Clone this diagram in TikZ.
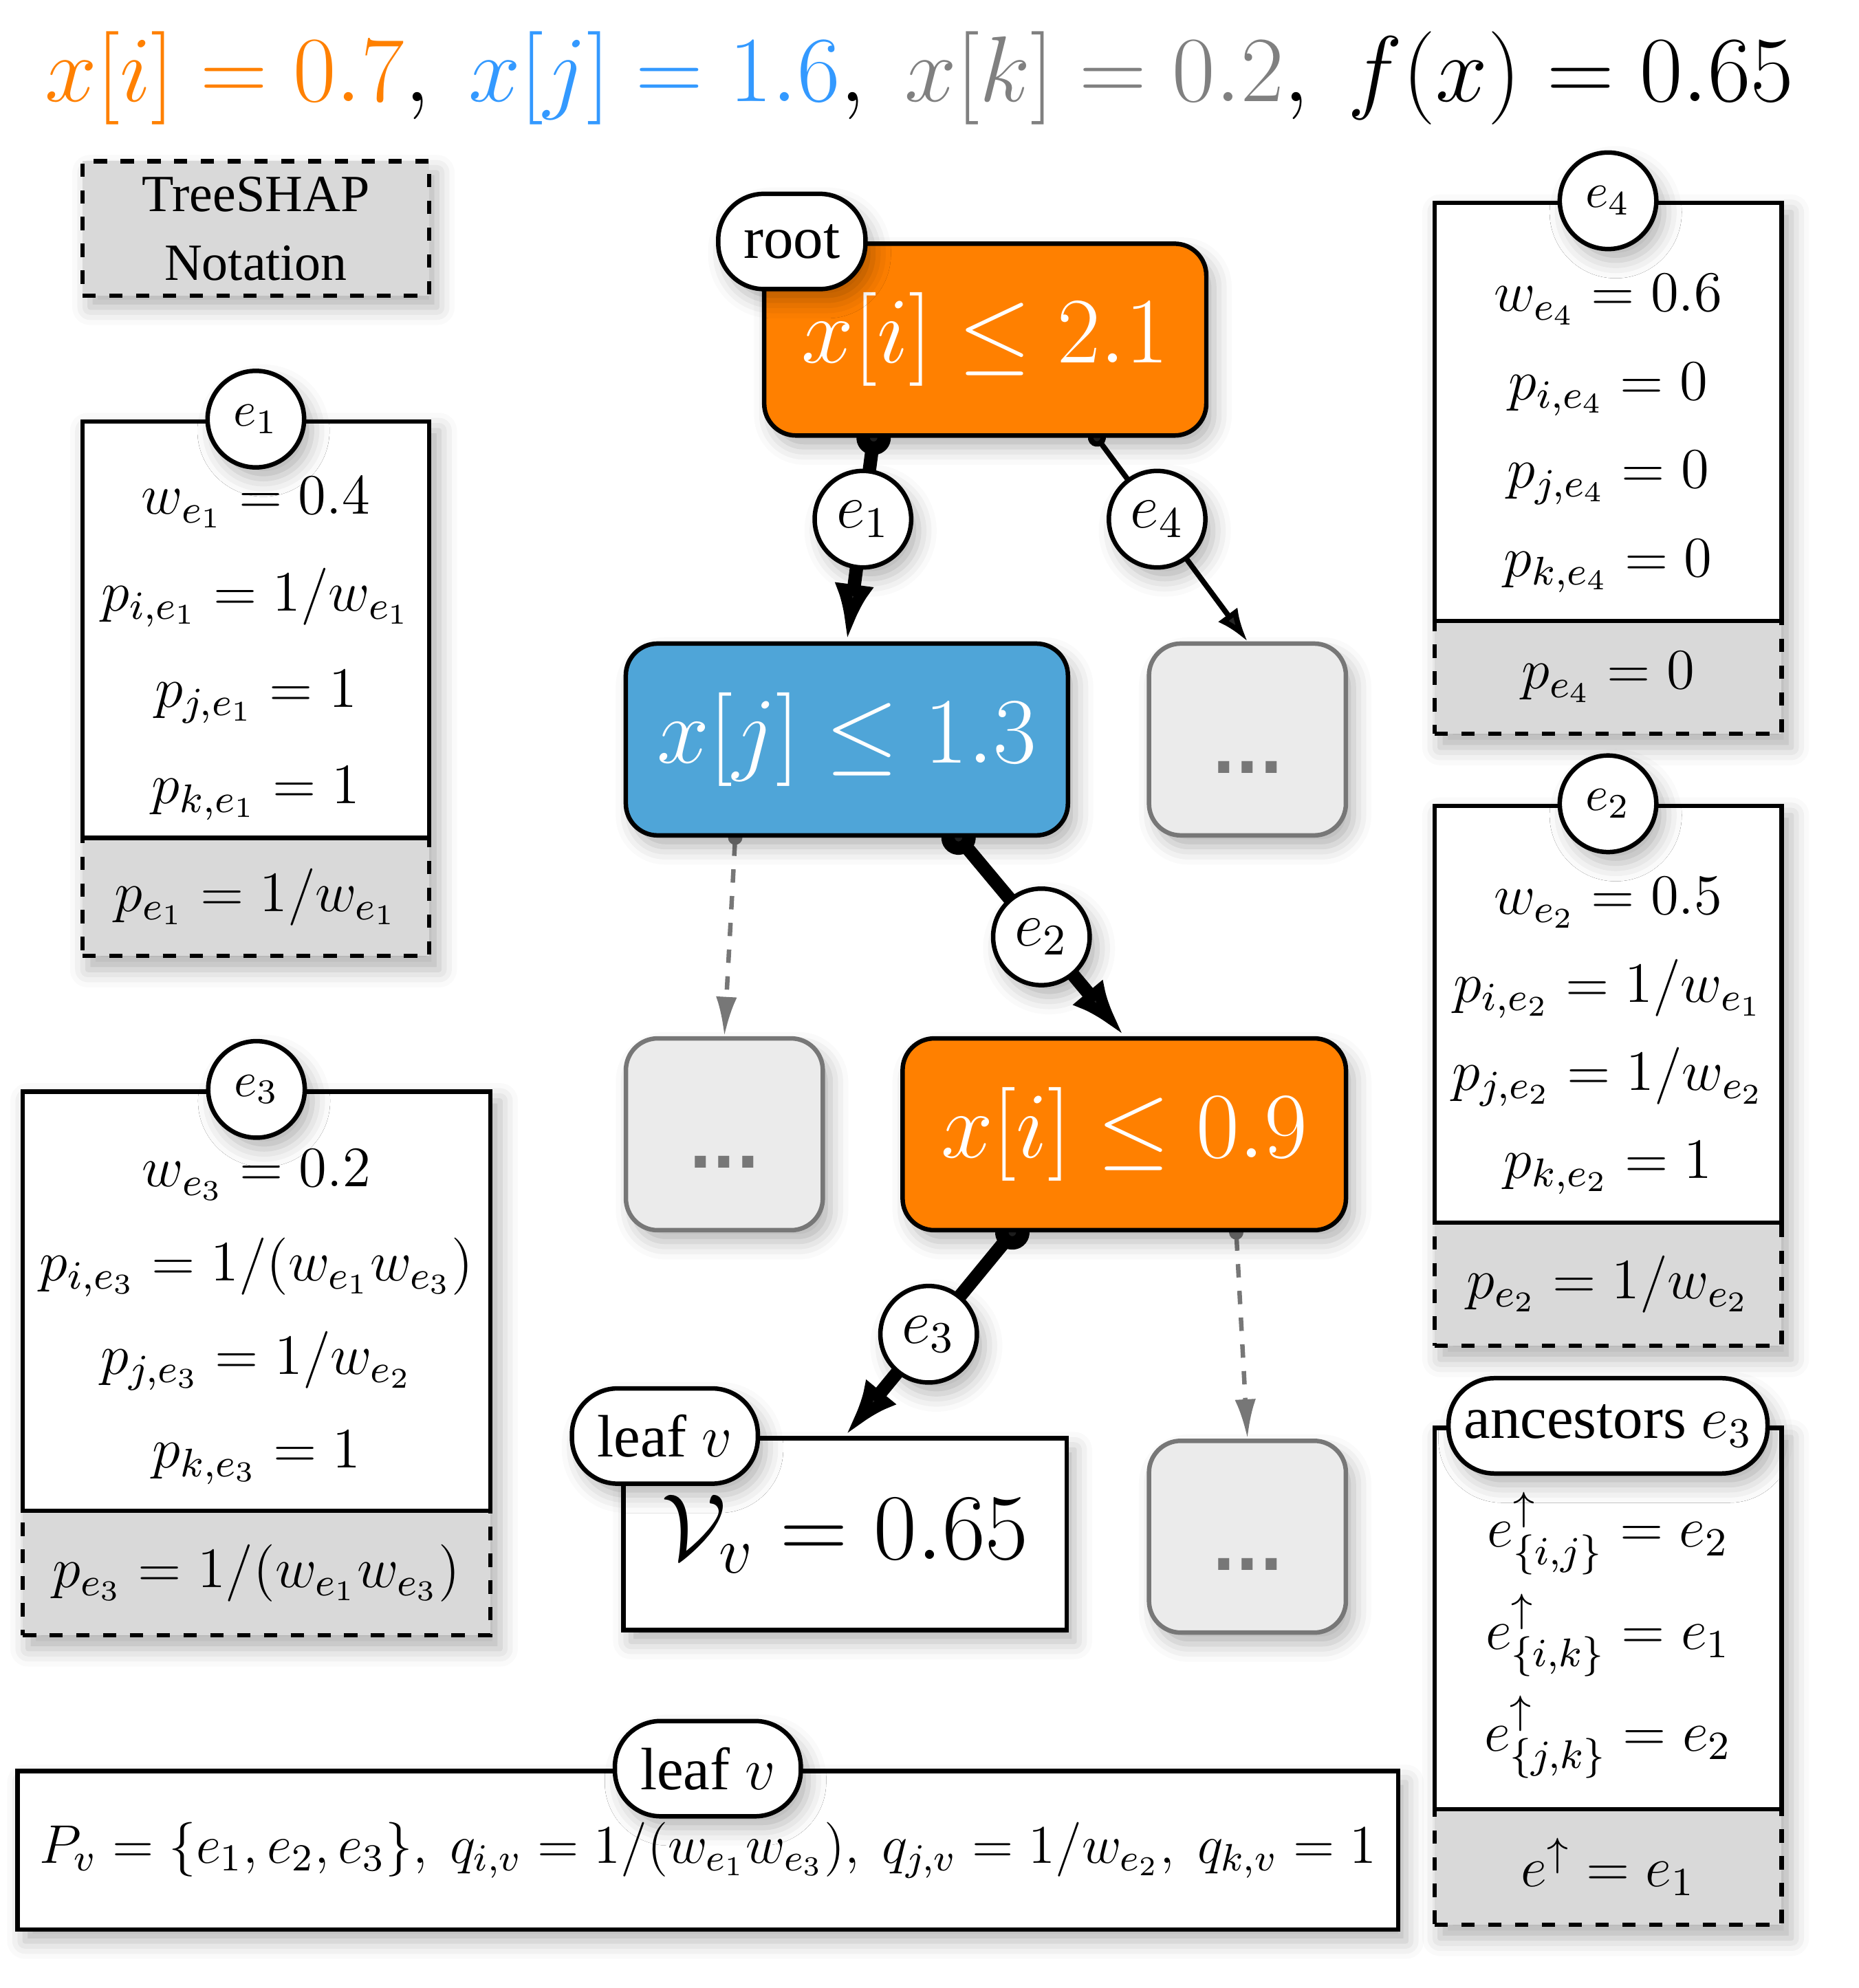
\RequirePackage{fix-cm}
\documentclass[tikz,border=0pt]{standalone}
\usepackage[no-math]{fontspec}
\setmainfont{Liberation Serif}
\newfontfamily\dotsfamily{DejaVu Sans}
\usepackage{tikz}
\usetikzlibrary{arrows.meta}
\usetikzlibrary{calc}
\usetikzlibrary{shadows}
\usetikzlibrary{backgrounds}

\definecolor{shaporange}{HTML}{FF8000}
\definecolor{shapblue}{HTML}{4FA5D8}
\definecolor{titleblue}{HTML}{3399FF}
\definecolor{titlegray}{HTML}{808080}
\definecolor{dotgray}{HTML}{777777}
\definecolor{dotfill}{HTML}{EBEBEB}
\definecolor{sumgray}{HTML}{D9D9D9}
\definecolor{shadowtint}{HTML}{9A9DC0}

\newcommand{\splitfont}{\fontsize{21}{24}\selectfont}
\newcommand{\titlefont}{\fontsize{20.9}{24}\selectfont}
\newcommand{\boxfont}{\fontsize{12.8}{21.6}\selectfont}
\newcommand{\tagfont}{\fontsize{11}{13}\selectfont}
\newcommand{\edgefont}{\fontsize{14}{16}\selectfont}
\newcommand{\notefont}{\fontsize{11.7}{15.4}\selectfont}

\IfFileExists{tikzlibraryshadows.blur.code.tex}{%
  \usetikzlibrary{shadows.blur}
  \tikzset{softshadow/.style={blur shadow={shadow xshift=0.6mm,shadow yshift=-0.9mm,shadow blur radius=1.4mm,shadow opacity=30}}}%
}{%
  \tikzset{softshadow/.style={drop shadow={shadow xshift=0.6mm,shadow yshift=-0.9mm,fill=shadowtint,opacity=0.35}}}%
}

\tikzset{
  splitnode/.style={draw, line width=1pt, rounded corners=0.25cm, minimum width=3.48cm, minimum height=1.51cm, text=white, font=\splitfont, softshadow},
  moredots/.style={draw=dotgray, line width=1pt, fill=dotfill, rounded corners=0.25cm, minimum width=1.55cm, minimum height=1.51cm, text=dotgray, font=\dotsfamily\bfseries\fontsize{14}{16}\selectfont, text height=15pt, text depth=0pt, softshadow},
  leafnode/.style={draw, line width=1pt, fill=white, minimum width=3.49cm, minimum height=1.51cm, font=\splitfont, softshadow},
  pilltag/.style={draw, line width=1pt, fill=white, rounded corners=0.36cm, minimum height=0.75cm, inner xsep=0.2cm, font=\fontsize{13.4}{16}\selectfont, softshadow},
  edgetag/.style={circle, draw, line width=1pt, fill=white, minimum size=0.76cm, inner sep=0pt, font=\edgefont, softshadow},
  boxtag/.style={circle, draw, line width=1pt, fill=white, minimum size=0.76cm, inner sep=0pt, font=\tagfont, softshadow},
  infobox/.style={draw, line width=1pt, fill=white, inner sep=0pt},
  sumbox/.style={draw, dashed, line width=1pt, fill=sumgray, inner sep=0pt, font=\boxfont},
  boxlines/.style={align=center, inner sep=0pt, font={\fontsize{12.8}{#1}\selectfont}},
  strong/.style={line width=3pt, shorten <=-3.85pt, {Circle[length=7.7pt]}-{Latex[length=12.8pt,width=8.8pt]}},
  weak/.style={line width=1.2pt, shorten <=-2pt, {Circle[length=4pt]}-{Latex[length=7.4pt,width=5.4pt]}},
  pruned/.style={draw=dotgray, line width=1pt, dashed, shorten <=-1.6pt, {Circle[length=3.2pt]}-{Latex[length=8.8pt,width=4.7pt]}},
}

\begin{document}
\begin{tikzpicture}[x=0.01cm, y=-0.01cm]
      \useasboundingbox (0,0) rectangle (1464,1566);

      \node[anchor=base, font=\titlefont] (title) at (724,80) {$\textcolor{shaporange}{x[i] = 0.7},\ \textcolor{titleblue}{x[j] = 1.6},\ \textcolor{titlegray}{x[k] = 0.2},\ f(x) = 0.65$};
      \node[sumbox, minimum width=2.73cm, minimum height=1.06cm, align=center, font=\notefont, softshadow] (notation) at (201.5,180) {TreeSHAP\\Notation};

      % tree
      \node[splitnode, fill=shaporange] (root) at (776,267.5) {$x[i] \leq 2.1$};
      \node[pilltag] (roottag) at ([xshift=0.235cm]root.north west) {root};
      \node[splitnode, fill=shapblue] (jsplit) at (667,582.5) {$x[j] \leq 1.3$};
      \node[moredots] (dotsa) at (982.5,582.5) {...};
      \node[moredots] (dotsb) at (570.5,893.5) {...};
      \node[splitnode, fill=shaporange, minimum width=3.49cm] (isplit) at (885.5,893.5) {$x[i] \leq 0.9$};
      \node[leafnode] (leaf) at (665.5,1208.5) {$\mathcal{V}_v = 0.65$};
      \node[pilltag] (leaftag) at ([xshift=0.345cm]leaf.north west) {leaf $v$};
      \node[moredots] (dotsc) at (982.5,1210.5) {...};

      % edge e1
      \node[sumbox, minimum width=2.73cm, minimum height=0.93cm] (sum1) at (201.5,706.5) {$p_{e_1} = 1/w_{e_1}$};
      \node[infobox, minimum width=2.73cm, minimum height=3.28cm] (box1) at (201.5,496) {};
      \node[boxtag] (tag1) at (box1.north) {$e_1$};
      \node[boxlines=21.6pt] (lines1) at (201.5,511) {$w_{e_1} = 0.4$\\ $p_{i,e_1} = 1/w_{e_1}$\\ $p_{j,e_1} = 1$\\ $p_{k,e_1} = 1$};

      % edge e3
      \node[sumbox, minimum width=3.68cm, minimum height=0.98cm] (sum3) at (202,1239) {$p_{e_3} = 1/(w_{e_1}w_{e_3})$};
      \node[infobox, minimum width=3.68cm, minimum height=3.30cm] (box3) at (202,1025) {};
      \node[boxtag] (tag3) at (box3.north) {$e_3$};
      \node[boxlines=21pt] (lines3) at (202,1037.5) {$w_{e_3} = 0.2$\\ $p_{i,e_3} = 1/(w_{e_1}w_{e_3})$\\ $p_{j,e_3} = 1/w_{e_2}$\\ $p_{k,e_3} = 1$};

      % edge e4
      \node[sumbox, minimum width=2.73cm, minimum height=0.89cm] (sum4) at (1266.5,533.5) {$p_{e_4} = 0$};
      \node[infobox, minimum width=2.73cm, minimum height=3.29cm] (box4) at (1266.5,324.5) {};
      \node[boxtag] (tag4) at (box4.north) {$e_4$};
      \node[boxlines=19.8pt] (lines4) at (1266.5,341.5) {$w_{e_4} = 0.6$\\ $p_{i,e_4} = 0$\\ $p_{j,e_4} = 0$\\ $p_{k,e_4} = 0$};

      % edge e2
      \node[sumbox, minimum width=2.73cm, minimum height=0.97cm] (sum2) at (1266.5,1011.5) {$p_{e_2} = 1/w_{e_2}$};
      \node[infobox, minimum width=2.73cm, minimum height=3.28cm] (box2) at (1266.5,799) {};
      \node[boxtag] (tag2) at (box2.north) {$e_2$};
      \node[boxlines=19.7pt] (lines2) at (1266.5,816) {$w_{e_2} = 0.5$\\ $p_{i,e_2} = 1/w_{e_1}$\\ $p_{j,e_2} = 1/w_{e_2}$\\ $p_{k,e_2} = 1$};

      % ancestors of e3
      \node[sumbox, minimum width=2.73cm, minimum height=0.91cm] (sumanc) at (1266.5,1470.5) {$e^{\uparrow} = e_1$};
      \node[infobox, minimum width=2.73cm, minimum height=3.00cm] (boxanc) at (1266.5,1275) {};
      \node[pilltag, inner xsep=0.12cm] (taganc) at (boxanc.north) {ancestors $e_3$};
      \node[boxlines=22.8pt] (linesanc) at (1266.5,1288) {$e^{\uparrow}_{\{i,j\}} = e_2$\\ $e^{\uparrow}_{\{i,k\}} = e_1$\\ $e^{\uparrow}_{\{j,k\}} = e_2$};

      % path of leaf v
      \node[infobox, minimum width=10.87cm, minimum height=1.25cm, font=\fontsize{12.2}{15}\selectfont, softshadow] (path) at (557.5,1457.5) {$P_v = \{e_1, e_2, e_3\},\ q_{i,v} = 1/(w_{e_1}w_{e_3}),\ q_{j,v} = 1/w_{e_2},\ q_{k,v} = 1$};
      \node[pilltag] (pathtag) at (path.north) {leaf $v$};

      \begin{pgfonlayer}{background}
      \path[softshadow] (box1.north west) rectangle (sum1.south east);
      \path[softshadow] (box3.north west) rectangle (sum3.south east);
      \path[softshadow] (box4.north west) rectangle (sum4.south east);
      \path[softshadow] (box2.north west) rectangle (sum2.south east);
      \path[softshadow] (boxanc.north west) rectangle (sumanc.south east);

      \draw[strong] ($(root.south west)!0.25!(root.south east)$) -- (jsplit.north) node[edgetag, pos=0.4] (edge1) {$e_1$};
      \draw[weak] ($(root.south west)!0.75!(root.south east)$) -- (dotsa.north) node[edgetag, pos=0.4] (edge4) {$e_4$};
      \draw[pruned] ($(jsplit.south west)!0.25!(jsplit.south east)$) -- (dotsb.north);
      \draw[strong] ($(jsplit.south west)!0.75!(jsplit.south east)$) -- (isplit.north) node[edgetag, pos=0.5] (edge2) {$e_2$};
      \draw[strong] ($(isplit.south west)!0.25!(isplit.south east)$) -- (leaf.north) node[edgetag, pos=0.5] (edge3) {$e_3$};
      \draw[pruned] ($(isplit.south west)!0.75!(isplit.south east)$) -- (dotsc.north);
      \end{pgfonlayer}
\end{tikzpicture}
\end{document}
